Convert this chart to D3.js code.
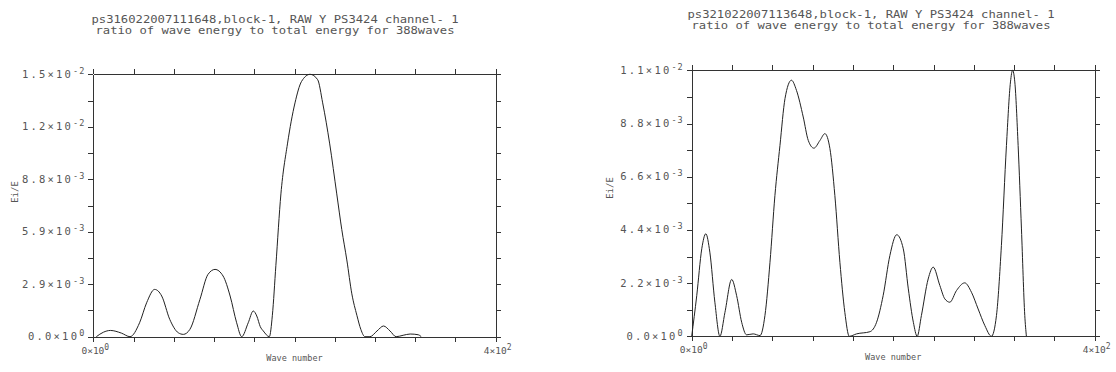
<!DOCTYPE html>
<html>
<head>
<meta charset="utf-8">
<script src="https://cdn.jsdelivr.net/npm/d3@7"></script>
<style>
  body { margin: 0; background: #fff; }
  svg text { font-family: "DejaVu Sans Mono", monospace; fill: #555; }
  .axis path, .axis line { stroke: #333; shape-rendering: crispEdges; }
</style>
</head>
<body>
<div id="my_dataviz"></div>
<script>
// ---- data ----
const leftTitle = ["ps316022007111648,block-1, RAW Y PS3424 channel- 1",
                   "ratio of wave energy to total energy for 388waves"];
const rightTitle = ["ps321022007113648,block-1, RAW Y PS3424 channel- 1",
                    "ratio of wave energy to total energy for 388waves"];

const leftWave = [3, 10, 17, 28, 36.5, 46, 53, 61, 68, 76, 84.5, 89.5, 96, 106, 114, 121, 129, 136, 142.5, 147.5,
  154, 159, 162.5, 166, 169, 175, 178, 181.5, 186.5, 193, 200.5, 207, 215.5, 223, 228, 235, 242, 247, 252, 257,
  262, 266, 270, 275, 282, 288.5, 295, 301, 308, 315, 323, 326];
const leftRatio = [0, 0.00025, 0.00035, 0.0002, 0, 0.00078, 0.0019, 0.00265, 0.00228, 0.00097, 0.00022, 0.00013,
  0.00041, 0.00209, 0.00349, 0.00377, 0.0034, 0.00228, 0.00078, 0,
  0.00078, 0.00144, 0.00116, 0.00056, 0.00032, 0, 0.0012, 0.004, 0.008, 0.0108, 0.0131, 0.0143, 0.0147, 0.0144,
  0.0131, 0.0108, 0.008, 0.006, 0.0043, 0.0024,
  0.0012, 0.0004, 0, 0, 0.00032, 0.0006, 0.00032, 0, 0.00008, 0.00015, 0.00011, 0];

const rightWave = [0, 5, 10, 14, 18, 23, 28, 33, 39.7, 44.6, 49.6, 54.5, 61, 67.8, 72.7, 77.7, 82.6, 87.6, 92.6, 99,
  104, 110.7, 115.7, 121.3, 127.3, 132.2, 137.2, 142.1, 147.1, 152, 156.4, 163.6, 176.9, 183.5, 190, 196.7, 203.5,
  210, 215, 220, 223.8, 228, 234.7, 239.7, 246.3, 251.2, 256.2, 262.8, 271, 277.7, 284.3, 291, 297.5, 302.5,
  307.4, 312.4, 316.4, 318.5, 320.7, 324, 327.3, 330.6, 332.2];
const rightRatio = [0, 0.00168, 0.00362, 0.00424, 0.00348, 0.00141, 0, 0.00099, 0.00235, 0.00168, 0.00058, 0.00006,
  0.0001, 0.00003, 0.00086, 0.00306, 0.00582, 0.00789, 0.00983, 0.01059,
  0.01017, 0.00907, 0.0081, 0.00778, 0.0081, 0.00838, 0.00776, 0.00582, 0.00306, 0.00099, 0, 0.0001, 0.00019,
  0.00058, 0.00168, 0.00334, 0.0042,
  0.00362, 0.00196, 0.00058, 0, 0.00086, 0.00237, 0.00286, 0.0021, 0.00155, 0.00141, 0.00189, 0.00221, 0.00182,
  0.00113, 0.00044, 0, 0.00086,
  0.00375, 0.00789, 0.01052, 0.011, 0.01052, 0.00789, 0.00444, 0.00086, 0];

const xDomain = [0, 400];
const xTickValues = d3.range(0, 401, 40);
const leftYMax = 0.0147;
const rightYMax = 0.011;

// [mantissa, exponent] pairs, labelled on every second tick
const leftYTickLabels = [["0.0", "0"], ["2.9", "-3"], ["5.9", "-3"], ["8.8", "-3"], ["1.2", "-2"], ["1.5", "-2"]];
const rightYTickLabels = [["0.0", "0"], ["2.2", "-3"], ["4.4", "-3"], ["6.6", "-3"], ["8.8", "-3"], ["1.1", "-2"]];
const xTickLabels = [["0", "0"], ["4", "2"]];

const xLabel = "Wave number";
const yLabel = "Ei/E";

// append the svg object to the body of the page
const svg = d3.select("#my_dataviz")
  .append("svg")
  .attr("width", 1116)
  .attr("height", 372);

svg.append("rect").attr("width", 1116).attr("height", 372).attr("fill", "#fff");

function drawPanel(p) {
  const x = d3.scaleLinear().domain(xDomain).range([p.left, p.right]);
  const y = d3.scaleLinear().domain([0, p.yMax]).range([p.bottom, p.top]);
  const yTickValues = d3.range(0, 11).map(i => p.yMax * i / 10);

  // frame with outward ticks on all four sides
  svg.append("g").attr("class", "axis")
    .attr("transform", "translate(0," + p.bottom + ")")
    .call(d3.axisBottom(x).tickValues(xTickValues).tickSize(5).tickSizeOuter(0).tickFormat(""));
  svg.append("g").attr("class", "axis")
    .attr("transform", "translate(0," + p.top + ")")
    .call(d3.axisTop(x).tickValues(xTickValues).tickSize(5).tickSizeOuter(0).tickFormat(""));
  svg.append("g").attr("class", "axis")
    .attr("transform", "translate(" + p.left + ",0)")
    .call(d3.axisLeft(y).tickValues(yTickValues).tickSize(5).tickSizeOuter(0).tickFormat(""));
  svg.append("g").attr("class", "axis")
    .attr("transform", "translate(" + p.right + ",0)")
    .call(d3.axisRight(y).tickValues(yTickValues).tickSize(5).tickSizeOuter(0).tickFormat(""));

  // y tick labels with superscript exponent
  p.yLabels.forEach(function(lab, i) {
    const t = svg.append("text")
      .attr("x", p.left - 8)
      .attr("y", y(yTickValues[i * 2]) + 3.5)
      .attr("text-anchor", "end")
      .style("font-size", "10.5px")
      .style("letter-spacing", "2.2px");
    t.append("tspan").text(lab[0] + "\u00d710");
    t.append("tspan").attr("dy", -4).style("font-size", "8.5px").style("letter-spacing", "1px").text(lab[1]);
  });

  // x tick labels at both ends
  xTickLabels.forEach(function(lab, i) {
    const t = svg.append("text")
      .attr("x", x(xDomain[i]) + 2)
      .attr("y", p.bottom + 17)
      .attr("text-anchor", "middle")
      .style("font-size", "9.5px");
    t.append("tspan").text(lab[0] + "\u00d710");
    t.append("tspan").attr("dy", -4).style("font-size", "8px").text(lab[1]);
  });

  svg.append("text")
    .attr("x", (p.left + p.right) / 2)
    .attr("y", p.bottom + 24)
    .attr("text-anchor", "middle")
    .style("font-size", "8.5px")
    .text(xLabel);

  svg.append("text")
    .attr("transform", "translate(" + p.yLabelX + "," + p.yLabelY + ") rotate(-90)")
    .attr("text-anchor", "middle")
    .style("font-size", "9px")
    .text(yLabel);

  // two line title
  p.title.forEach(function(line, i) {
    svg.append("text")
      .attr("x", p.titleX)
      .attr("y", p.titleY + i * 11)
      .attr("text-anchor", "middle")
      .attr("textLength", i == 0 ? 367 : 359)
      .attr("lengthAdjust", "spacingAndGlyphs")
      .style("font-size", "10px")
      .text(line);
  });

  // the curve
  const pts = p.wave.map((w, i) => [w, p.ratio[i]]);
  svg.append("path")
    .datum(pts)
    .attr("fill", "none")
    .attr("stroke", "#222")
    .attr("stroke-width", 1)
    .attr("d", d3.line().x(d => x(d[0])).y(d => y(d[1])).curve(d3.curveMonotoneX));
}

drawPanel({
  left: 93.3, right: 495.7, top: 74.3, bottom: 336.7,
  yMax: leftYMax, yLabels: leftYTickLabels,
  wave: leftWave, ratio: leftRatio, title: leftTitle,
  titleX: 275, titleY: 22.5, yLabelX: 18, yLabelY: 192
});

drawPanel({
  left: 691.7, right: 1094.7, top: 70.3, bottom: 336.3,
  yMax: rightYMax, yLabels: rightYTickLabels,
  wave: rightWave, ratio: rightRatio, title: rightTitle,
  titleX: 871, titleY: 18, yLabelX: 613, yLabelY: 188
});
</script>
</body>
</html>
